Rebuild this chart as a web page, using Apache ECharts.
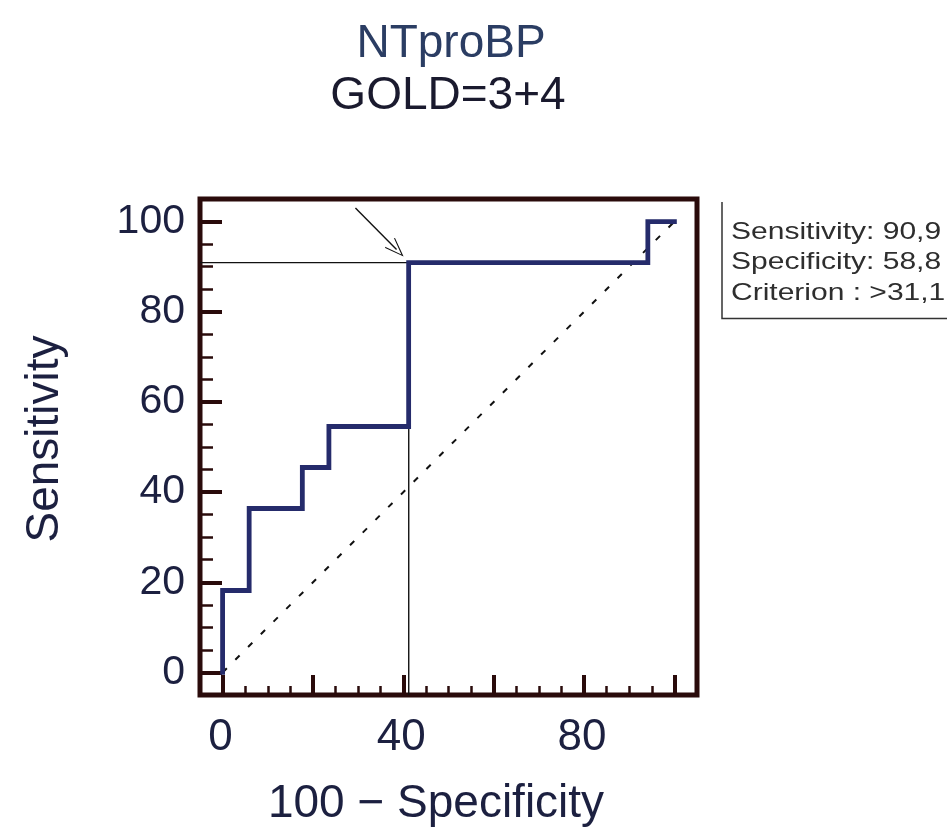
<!DOCTYPE html>
<html>
<head>
<meta charset="utf-8">
<title>NTproBP ROC</title>
<script src="https://cdn.jsdelivr.net/npm/echarts@6/dist/echarts.min.js"></script>
<style>
  html, body { margin: 0; padding: 0; background: #ffffff; }
  #chart { width: 947px; height: 832px; }
</style>
</head>
<body>
<div id="chart"></div>
<script>
// ROC curve (100 - specificity, sensitivity), step points
const rocX = [0, 0, 5.88, 5.88, 17.65, 17.65, 23.53, 23.53, 41.18, 41.18, 94.12, 94.12, 100];
const rocY = [0, 18.18, 18.18, 36.36, 36.36, 45.45, 45.45, 54.55, 54.55, 90.91, 90.91, 100, 100];

// chance diagonal
const chanceX = [0, 100];
const chanceY = [0, 100];

// optimal cut-off
const cutSensitivity = 90.9;
const cutSpecificity = 58.8;
const cutCriterion = '>31,1';

// arrow pointing to the cut-off point
const arrowFrom = [29.4, 103];
const arrowTo = [38.5, 93.8];

// axes
const axisMin = -5;
const axisMax = 105;
const majorTicks = [0, 20, 40, 60, 80, 100];
const minorTicks = [5, 10, 15, 25, 30, 35, 45, 50, 55, 65, 70, 75, 85, 90, 95];
const xTickLabels = [0, 40, 80];
const yTickLabels = [0, 20, 40, 60, 80, 100];

const titleLines = ['NTproBP', 'GOLD=3+4'];
const xName = '100 \u2212 Specificity';
const yName = 'Sensitivity';

const FRAME = '#2a0b0b';
const CURVE = '#252b6b';
const TEXT = '#1c2040';
const FONT = '"Liberation Sans", Arial, sans-serif';

const fmt = v => String(v).replace('.', ',');
const infoLines = [
  'Sensitivity: ' + fmt(cutSensitivity),
  'Specificity: ' + fmt(cutSpecificity),
  'Criterion : ' + cutCriterion
];

const rocData = rocX.map((x, i) => [x, rocY[i]]);
const chanceData = chanceX.map((x, i) => [x, chanceY[i]]);
const cutX = +(100 - cutSpecificity).toFixed(2);
const cutLineData = [[axisMin, cutSensitivity], [cutX, cutSensitivity], [cutX, axisMin]];

function axisPair(dim) {
  const isX = dim === 'x';
  const base = {
    type: 'value', min: axisMin, max: axisMax,
    position: isX ? 'bottom' : 'left',
    axisLine: { show: false, onZero: false },
    splitLine: { show: false },
    gridIndex: 0
  };
  const major = Object.assign({}, base, {
    axisTick: {
      show: true, inside: true, length: isX ? 20 : 22,
      customValues: majorTicks,
      lineStyle: { color: FRAME, width: 4 }
    },
    axisLabel: {
      show: true,
      customValues: isX ? xTickLabels : yTickLabels,
      fontFamily: FONT, fontSize: isX ? 44 : 41, color: TEXT,
      margin: isX ? 21 : 15,
      padding: isX ? [0, 4, 0, 0] : [0, 0, 13, 0]
    },
    name: isX ? xName : yName,
    nameLocation: 'middle',
    nameGap: isX ? 86 : 132,
    nameTextStyle: {
      fontFamily: FONT, fontSize: 46, color: TEXT,
      padding: isX ? [0, 25, 0, 0] : [0, 0, 0, 16]
    }
  });
  const minor = Object.assign({}, base, {
    axisTick: {
      show: true, inside: true, length: isX ? 9 : 13,
      customValues: minorTicks,
      lineStyle: { color: FRAME, width: 2.5 }
    },
    axisLabel: { show: false }
  });
  return [major, minor];
}

const chart = echarts.init(document.getElementById('chart'), null, { renderer: 'canvas' });

chart.setOption({
  backgroundColor: '#ffffff',
  animation: false,
  title: [
    {
      text: titleLines[0], left: 446, top: 14, textAlign: 'center',
      textStyle: { fontFamily: FONT, fontSize: 46, fontWeight: 'normal', color: '#2b3d63', lineHeight: 50 }
    },
    {
      text: titleLines[1], left: 443, top: 66, textAlign: 'center',
      textStyle: { fontFamily: FONT, fontSize: 46, fontWeight: 'normal', color: '#1a1a2e', lineHeight: 50 }
    }
  ],
  grid: {
    left: 200, top: 199, width: 497, height: 496,
    show: true, borderWidth: 5, borderColor: FRAME, backgroundColor: 'transparent',
    containLabel: false, outerBoundsMode: 'none'
  },
  xAxis: axisPair('x'),
  yAxis: axisPair('y'),
  series: [
    {
      name: 'chance', type: 'line', data: chanceData,
      xAxisIndex: 0, yAxisIndex: 0,
      symbol: 'none', silent: true, z: 2,
      lineStyle: { color: '#111111', width: 2, type: [6, 12] }
    },
    {
      name: 'cut-off', type: 'line', data: cutLineData,
      xAxisIndex: 0, yAxisIndex: 0,
      symbol: 'none', silent: true, z: 3,
      lineStyle: { color: '#111111', width: 1.4 },
      markLine: {
        silent: true,
        symbol: ['none', 'path://M0,0 L10,16 L8.8,16.8 L0,2.6 L-8.8,16.8 L-10,16 Z'],
        symbolSize: [14, 20],
        label: { show: false },
        lineStyle: { color: '#111111', width: 1.4, type: 'solid' },
        data: [[{ coord: arrowFrom }, { coord: arrowTo }]]
      }
    },
    {
      name: 'ROC', type: 'line', data: rocData,
      xAxisIndex: 0, yAxisIndex: 0,
      symbol: 'none', silent: true, z: 4,
      lineStyle: { color: CURVE, width: 4.8, join: 'miter', cap: 'square' }
    }
  ],
  graphic: [
    {
      type: 'polyline', silent: true,
      shape: { points: [[722, 202], [722, 318.5], [947, 318.5]] },
      style: { stroke: '#333333', lineWidth: 1.5, fill: null }
    },
    ...infoLines.map((t, i) => ({
      type: 'text', silent: true, x: 731, y: 232 + i * 30.5, scaleX: 1.25,
      style: { text: t, fontFamily: FONT, fontSize: 24, fill: '#2e2e2e', verticalAlign: 'middle' }
    }))
  ]
});
</script>
</body>
</html>
